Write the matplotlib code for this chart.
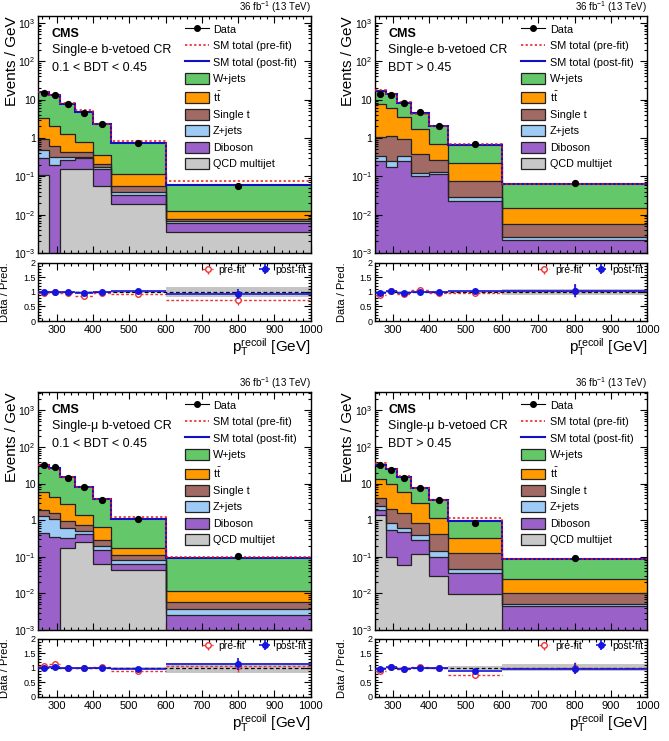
import matplotlib.pyplot as plt
import numpy as np
from matplotlib.lines import Line2D
from matplotlib.patches import Patch
from matplotlib.ticker import MultipleLocator, LogLocator, NullFormatter, FuncFormatter

plt.rcParams['font.family'] = ['Liberation Sans', 'DejaVu Sans']
plt.rcParams['mathtext.fontset'] = 'custom'
plt.rcParams['mathtext.rm'] = 'Liberation Sans'
plt.rcParams['mathtext.it'] = 'Liberation Sans:italic'
plt.rcParams['mathtext.bf'] = 'Liberation Sans:bold'

edges = [250, 280, 310, 350, 400, 450, 600, 1000]
centers = [265, 295, 330, 375, 425, 525, 800]

# Single-e, 0.1 < BDT < 0.45
e_lo_qcd = [0.105, 0.0, 0.155, 0.155, 0.055, 0.019, 0.0035]
e_lo_dib = [0.195, 0.20, 0.115, 0.135, 0.095, 0.014, 0.0025]
e_lo_zjets = [0.17, 0.12, 0.04, 0.03, 0.02, 0.007, 0.0007]
e_lo_top = [0.48, 0.28, 0.11, 0.11, 0.04, 0.016, 0.0011]
e_lo_tt = [2.35, 1.5, 0.83, 0.36, 0.14, 0.059, 0.0047]
e_lo_wjets = [12.2, 11.1, 6.55, 3.81, 1.95, 0.635, 0.0475]
e_lo_data = [14.5, 12.8, 7.6, 4.5, 2.3, 0.75, 0.055]
e_lo_pre = [0.97, 1.0, 0.96, 0.87, 0.98, 0.92, 0.73]
e_lo_post = [1.0, 1.0, 1.0, 0.98, 1.0, 1.02, 0.93]
e_lo_err = [0.04, 0.04, 0.05, 0.05, 0.07, 0.08, 0.18]
e_lo_band = [0.03, 0.03, 0.03, 0.04, 0.04, 0.05, 0.16]

# Single-e, BDT > 0.45
e_hi_qcd = [0, 0, 0, 0, 0, 0, 0]
e_hi_dib = [0.256, 0.172, 0.256, 0.102, 0.115, 0.023, 0.0022]
e_hi_zjets = [0.09, 0.074, 0.077, 0.023, 0.015, 0.005, 0.0004]
e_hi_top = [0.714, 0.854, 0.607, 0.265, 0.13, 0.046, 0.0032]
e_hi_tt = [6.64, 4.9, 2.51, 1.36, 0.45, 0.144, 0.0092]
e_hi_wjets = [8.7, 8.0, 4.65, 2.75, 1.29, 0.452, 0.048]
e_hi_data = [14.2, 13.4, 7.9, 4.6, 2.0, 0.68, 0.067]
e_hi_pre = [0.88, 1.03, 0.94, 1.07, 0.97, 0.98, 1.04]
e_hi_post = [0.96, 1.02, 0.98, 1.01, 1.0, 1.03, 1.05]
e_hi_err = [0.04, 0.04, 0.05, 0.05, 0.07, 0.09, 0.22]
e_hi_band = [0.03, 0.03, 0.03, 0.04, 0.04, 0.05, 0.12]

# Single-mu, 0.1 < BDT < 0.45
mu_lo_qcd = [0.0, 0.0, 0.17, 0.25, 0.065, 0.044, 0.0]
mu_lo_dib = [0.45, 0.34, 0.15, 0.17, 0.09, 0.021, 0.0025]
mu_lo_zjets = [0.82, 0.74, 0.28, 0.10, 0.045, 0.015, 0.0012]
mu_lo_top = [0.63, 0.52, 0.35, 0.22, 0.08, 0.03, 0.002]
mu_lo_tt = [4.1, 2.6, 1.75, 0.61, 0.37, 0.065, 0.006]
mu_lo_wjets = [27.0, 23.3, 12.3, 6.65, 3.15, 0.925, 0.0823]
mu_lo_data = [32.4, 28.0, 14.6, 7.9, 3.6, 1.05, 0.107]
mu_lo_pre = [1.06, 1.15, 0.99, 1.0, 1.02, 0.88, 1.07]
mu_lo_post = [1.01, 1.03, 0.99, 1.0, 1.0, 0.96, 1.13]
mu_lo_err = [0.03, 0.03, 0.04, 0.04, 0.05, 0.06, 0.2]
mu_lo_band = [0.03, 0.03, 0.03, 0.03, 0.04, 0.05, 0.18]

# Single-mu, BDT > 0.45
mu_hi_qcd = [1.41, 0.098, 0.06, 0.121, 0.029, 0.0097, 0.0]
mu_hi_dib = [0.53, 0.452, 0.405, 0.169, 0.073, 0.0273, 0.0044]
mu_hi_zjets = [0.45, 0.29, 0.145, 0.11, 0.038, 0.01, 0.0006]
mu_hi_top = [1.66, 1.18, 0.96, 0.44, 0.29, 0.079, 0.0051]
mu_hi_tt = [9.65, 7.98, 4.33, 2.11, 0.72, 0.199, 0.0149]
mu_hi_wjets = [19.4, 15.8, 9.3, 4.65, 2.35, 0.605, 0.063]
mu_hi_data = [31.8, 24.2, 14.3, 7.6, 3.5, 0.84, 0.092]
mu_hi_pre = [0.90, 1.03, 0.95, 1.03, 1.0, 0.75, 1.01]
mu_hi_post = [0.98, 1.02, 0.98, 1.01, 1.0, 0.90, 0.98]
mu_hi_err = [0.03, 0.03, 0.04, 0.04, 0.05, 0.06, 0.2]
mu_hi_band = [0.03, 0.03, 0.03, 0.03, 0.04, 0.06, 0.12]

proc_labels = ['W+jets', r't$\bar{\mathrm{t}}$', 'Single t', 'Z+jets', 'Diboson', 'QCD multijet']
proc_colors = ['#64c86a', '#ff9a00', '#a16a64', '#9dcbf6', '#9a62c8', '#c8c8c8']

panels = [
    dict(stack=[e_lo_qcd, e_lo_dib, e_lo_zjets, e_lo_top, e_lo_tt, e_lo_wjets],
         data=e_lo_data, pre=e_lo_pre, post=e_lo_post, err=e_lo_err, band=e_lo_band,
         region='Single-e b-vetoed CR', bdt='0.1 < BDT < 0.45', ymax=1.5e3),
    dict(stack=[e_hi_qcd, e_hi_dib, e_hi_zjets, e_hi_top, e_hi_tt, e_hi_wjets],
         data=e_hi_data, pre=e_hi_pre, post=e_hi_post, err=e_hi_err, band=e_hi_band,
         region='Single-e b-vetoed CR', bdt='BDT > 0.45', ymax=1.5e3),
    dict(stack=[mu_lo_qcd, mu_lo_dib, mu_lo_zjets, mu_lo_top, mu_lo_tt, mu_lo_wjets],
         data=mu_lo_data, pre=mu_lo_pre, post=mu_lo_post, err=mu_lo_err, band=mu_lo_band,
         region='Single-\u03bc b-vetoed CR', bdt='0.1 < BDT < 0.45', ymax=3.2e3),
    dict(stack=[mu_hi_qcd, mu_hi_dib, mu_hi_zjets, mu_hi_top, mu_hi_tt, mu_hi_wjets],
         data=mu_hi_data, pre=mu_hi_pre, post=mu_hi_post, err=mu_hi_err, band=mu_hi_band,
         region='Single-\u03bc b-vetoed CR', bdt='BDT > 0.45', ymax=3.2e3),
]

# axes boxes in figure fractions: (main bottom, main height, ratio bottom)
lefts = [0.0575, 0.5605]
width = 0.407
rows = [(0.6586, 0.3198, 0.5668), (0.1498, 0.3212, 0.0594)]
ratio_h = 0.0783


def log_fmt(v, pos):
    e = int(round(np.log10(v)))
    if e == 0:
        return '1'
    if e == 1:
        return '10'
    return r'$10^{%d}$' % e


def style_ticks(ax):
    ax.tick_params(which='both', direction='in', top=True, right=True, width=0.8)
    ax.tick_params(which='major', length=5)
    ax.tick_params(which='minor', length=2.5)
    ax.xaxis.set_major_locator(MultipleLocator(100))
    ax.xaxis.set_minor_locator(MultipleLocator(20))
    ax.set_xlim(250, 1000)
    for s in ax.spines.values():
        s.set_linewidth(1.0)


fig = plt.figure(figsize=(6.69, 7.41), dpi=100)
half = np.diff(edges) / 2.0

for i, p in enumerate(panels):
    left = lefts[i % 2]
    mb, mh, rb = rows[i // 2]
    ax = fig.add_axes([left, mb, width, mh])
    rax = fig.add_axes([left, rb, width, ratio_h])

    # stacked backgrounds, drawn top-down as ROOT does
    cum = np.cumsum(np.array(p['stack'], dtype=float), axis=0)
    cols = proc_colors[::-1]
    for level, col in reversed(list(zip(cum, cols))):
        ax.stairs(np.maximum(level, 1e-7), edges, baseline=1e-7, fill=True,
                  color=col, lw=0, zorder=1)
    for level in cum[:-1]:
        ax.stairs(np.maximum(level, 1e-7), edges, baseline=None,
                  color='#222222', lw=0.9, zorder=2)
    total = cum[-1]
    prefit = total * np.array(p['post']) / np.array(p['pre'])
    ax.stairs(total, edges, baseline=None, color='#1010c8', lw=1.5, zorder=3)
    ax.stairs(prefit, edges, baseline=None, color='#ee1111', lw=1.1,
              ls=(0, (1.5, 1.5)), zorder=4)
    ax.plot(centers, p['data'], 'o', color='black', ms=4.2, zorder=5)

    ax.set_yscale('log')
    ax.set_ylim(1e-3, p['ymax'])
    ax.yaxis.set_major_locator(LogLocator(base=10, numticks=15))
    ax.yaxis.set_minor_locator(LogLocator(base=10, subs=np.arange(2, 10), numticks=15))
    ax.yaxis.set_major_formatter(FuncFormatter(log_fmt))
    ax.yaxis.set_minor_formatter(NullFormatter())
    style_ticks(ax)
    ax.tick_params(labelbottom=False, labelsize=7.5, pad=2)

    ax.text(0.048, 0.925, 'CMS', transform=ax.transAxes, fontsize=9,
            fontweight='bold', va='center')
    ax.text(0.048, 0.858, p['region'], transform=ax.transAxes, fontsize=9, va='center')
    ax.text(0.048, 0.782, p['bdt'], transform=ax.transAxes, fontsize=9, va='center')
    ax.text(1.0, 1.004, r'36 fb$^{-1}$ (13 TeV)', transform=ax.transAxes,
            fontsize=7, ha='right', va='bottom')
    ax.text(-0.123, 1.0, 'Events / GeV', transform=ax.transAxes, fontsize=11,
            rotation=90, ha='right', va='top', rotation_mode='anchor')

    handles = [Line2D([], [], color='black', marker='o', ms=4, lw=0.8),
               Line2D([], [], color='#ee1111', lw=1.1, ls=(0, (1.5, 1.5))),
               Line2D([], [], color='#1010c8', lw=1.5)]
    handles += [Patch(facecolor=c, edgecolor='#222222', lw=0.9) for c in proc_colors]
    labels = ['Data', 'SM total (pre-fit)', 'SM total (post-fit)'] + proc_labels
    ax.legend(handles, labels, loc='upper left', bbox_to_anchor=(0.538, 0.968),
              frameon=False, fontsize=7.8, handlelength=2.2, handleheight=1.15,
              labelspacing=0.5, handletextpad=0.4, borderpad=0, borderaxespad=0)

    # ratio panel
    band = np.array(p['band'])
    rax.stairs(1 + band, edges, baseline=1 - band, fill=True, color='#c4c4c4',
               lw=0, zorder=1)
    rax.axhline(1.0, color='black', ls=(0, (3, 2)), lw=0.9, zorder=2)
    eb_pre = rax.errorbar(centers, p['pre'], xerr=half, yerr=p['err'], fmt='o',
                          ms=4, mfc='white', mec='#ee3333', ecolor='#ee3333',
                          elinewidth=1.0, mew=1.0, zorder=3, label='pre-fit')
    for lc in eb_pre[2]:
        lc.set_linestyle((0, (2, 1.5)))
    eb_post = rax.errorbar(centers, p['post'], xerr=half, yerr=p['err'], fmt='o',
                           ms=4, color='#1515e0', elinewidth=1.2, zorder=4,
                           label='post-fit')
    rax.set_ylim(0, 2)
    rax.yaxis.set_major_locator(MultipleLocator(0.5))
    rax.yaxis.set_minor_locator(MultipleLocator(0.1))
    rax.yaxis.set_major_formatter(FuncFormatter(lambda v, pos: '%g' % v))
    style_ticks(rax)
    rax.tick_params(axis='y', labelsize=6.5, pad=2)
    rax.tick_params(axis='x', labelsize=8, pad=3)
    rax.legend([eb_pre, eb_post], ['pre-fit', 'post-fit'], loc='upper right',
               bbox_to_anchor=(0.985, 0.97), ncol=2, frameon=False, fontsize=7.5,
               handlelength=0.9, handletextpad=0.6, columnspacing=1.4,
               borderpad=0, borderaxespad=0)
    rax.text(-0.14, 0.5, 'Data / Pred.', transform=rax.transAxes, fontsize=8,
             rotation=90, ha='center', va='top', rotation_mode='anchor')
    rax.text(1.0, -0.26, r'$\mathregular{p_T^{recoil}}$ [GeV]', transform=rax.transAxes,
             fontsize=11, ha='right', va='top')

fig.savefig('out.png', dpi=100)
